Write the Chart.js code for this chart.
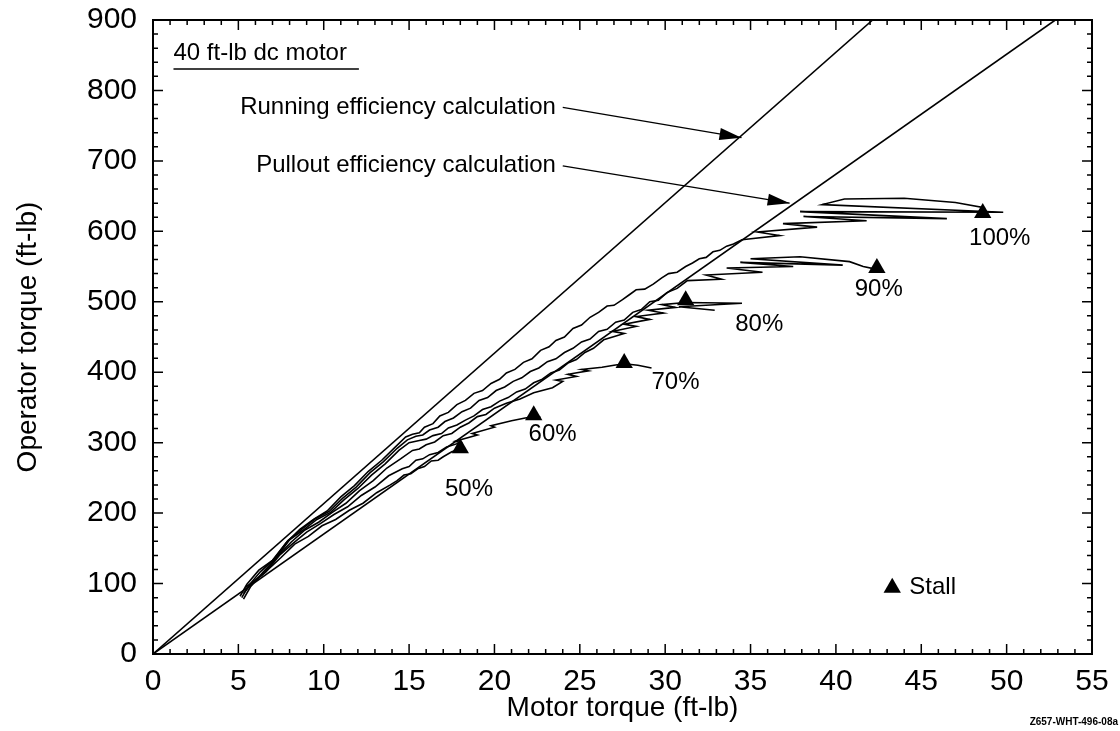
<!DOCTYPE html>
<html>
<head>
<meta charset="utf-8">
<script src="https://cdn.jsdelivr.net/npm/chart.js@4"></script>
<style>
  body { margin: 0; background: #fff; }
</style>
</head>
<body>
<canvas id="chart" width="1120" height="731"></canvas>
<script>
// tick labels
const xTicks = [0, 5, 10, 15, 20, 25, 30, 35, 40, 45, 50, 55];
const yTicks = [0, 100, 200, 300, 400, 500, 600, 700, 800, 900];

// efficiency lines: [motor torque, operator torque]
const runningLine = [[0, 0], [42.15, 900]];
const pulloutLine = [[0, 0], [52.85, 900]];
const runningArrow = [[24.0, 776], [34.47, 733]];
const pulloutArrow = [[24.0, 693], [37.29, 640]];

// traces per voltage level
const curve100 = [[5.1,82],[5.5,99],[6.2,119],[7.0,133],[7.8,158],[8.6,177],[9.4,191],[10.2,203],[11.0,223],[11.8,239],[12.6,259],[13.4,275],[14.2,294],[14.8,308],[15.2,312],[15.6,314],[15.9,322],[16.4,327],[16.8,338],[17.3,343],[17.8,354],[18.3,360],[18.8,370],[19.3,374],[19.8,384],[20.3,390],[20.7,399],[21.2,404],[21.7,414],[22.2,419],[22.7,431],[23.2,436],[23.6,445],[24.1,450],[24.6,462],[25.1,467],[25.6,478],[26.1,485],[26.6,494],[27.0,495],[27.5,503],[27.9,510],[28.3,517],[28.8,518],[29.3,525],[29.8,534],[30.2,540],[30.7,542],[31.2,550],[31.6,555],[32.0,561],[32.4,563],[32.8,571],[33.2,573],[33.6,579],[34.0,582],[34.5,588],[36.7,594],[35.4,599],[38.9,606],[36.9,611],[41.8,615],[38.1,621],[46.5,618],[37.9,628],[49.8,627],[39.2,638],[40.5,646],[44.0,647],[47.0,641],[48.6,634],[48.6,626]];
const curve90 = [[5.2,80],[5.6,97],[6.3,117],[7.1,135],[7.9,161],[8.7,177],[9.5,192],[10.3,202],[11.1,221],[11.9,237],[12.7,257],[13.5,273],[14.3,292],[14.9,304],[15.4,309],[15.8,311],[16.2,318],[16.7,322],[17.1,330],[17.6,335],[18.1,344],[18.6,349],[19.1,360],[19.6,364],[20.1,374],[20.6,379],[21.1,387],[21.6,392],[22.1,401],[22.6,406],[23.1,415],[23.6,419],[24.1,428],[24.6,434],[25.1,443],[25.6,447],[26.1,458],[26.6,461],[27.1,471],[27.6,474],[28.1,485],[28.6,489],[29.1,500],[29.6,502],[30.1,513],[30.7,519],[31.3,530],[33.3,532],[32.4,538],[35.7,542],[33.6,548],[37.5,550],[34.4,556],[40.4,552],[35.0,561],[37.9,564],[40.8,557],[41.6,550],[42.4,546]];
const curve80 = [[5.3,78],[5.7,95],[6.4,115],[7.2,136],[8.0,162],[8.8,176],[9.6,191],[10.4,201],[11.2,219],[12.0,235],[12.8,254],[13.6,270],[14.4,289],[15.0,300],[15.6,303],[16.0,305],[16.4,310],[16.9,313],[17.3,321],[17.8,325],[18.3,332],[18.8,338],[19.3,347],[19.8,351],[20.3,359],[20.8,364],[21.3,372],[21.8,376],[22.3,385],[22.8,390],[23.3,399],[23.8,403],[24.3,413],[24.8,418],[25.3,428],[25.8,434],[26.4,446],[27.6,455],[26.9,458],[28.3,465],[27.6,468],[29.1,475],[28.3,479],[29.9,484],[29.0,488],[30.6,492],[29.8,496],[31.2,499],[34.5,498],[30.8,493],[32.9,488]];
const curve70 = [[5.3,86],[5.8,101],[6.5,115],[7.3,139],[8.1,159],[8.9,176],[9.7,187],[10.5,201],[11.3,214],[12.1,232],[12.9,246],[13.7,264],[14.5,277],[15.2,289],[15.6,291],[16.0,297],[16.5,301],[17.0,310],[17.5,313],[18.0,322],[18.5,328],[19.0,337],[19.5,340],[20.0,349],[20.7,356],[21.5,362],[22.3,371],[23.4,378],[24.0,387],[23.6,389],[24.8,394],[24.3,397],[25.5,402],[25.1,404],[26.3,407],[27.0,410],[27.6,412],[28.4,410],[29.2,406]];
const curve60 = [[5.4,90],[5.9,103],[6.6,116],[7.4,140],[8.2,157],[9.0,173],[9.8,185],[10.6,198],[11.4,209],[12.2,225],[13.0,237],[13.8,253],[14.6,263],[15.0,266],[15.4,275],[15.8,277],[16.2,283],[16.7,286],[17.2,294],[18.0,300],[17.7,302],[19.0,311],[18.7,313],[20.0,322],[19.8,324],[21.0,331],[21.8,335],[22.3,337],[22.7,336]];
const curve50 = [[5.4,95],[6.0,104],[6.7,119],[7.5,137],[8.3,156],[9.1,167],[9.9,182],[10.7,191],[11.5,204],[12.3,214],[13.1,229],[13.9,240],[14.3,246],[14.7,254],[15.1,256],[15.5,263],[15.9,266],[16.3,274],[16.7,275],[17.0,280],[17.5,287],[18.0,291]];

// stall points and their labels
const stallPoints = [[18.0,292],[22.3,339],[27.6,413],[31.2,502],[42.4,548],[48.6,626]];
const stallLabels = ['50%', '60%', '70%', '80%', '90%', '100%'];
const legendStall = [[43.3, 94]];

const FONT = "'Liberation Sans', Arial, Helvetica, sans-serif";
Chart.defaults.font.family = FONT;
Chart.defaults.color = '#000';

const pts = arr => arr.map(p => ({x: p[0], y: p[1]}));
const lineSet = (arr, w) => ({
  data: pts(arr), showLine: true, pointRadius: 0, borderColor: '#000',
  borderWidth: w, tension: 0, fill: false
});

// text placed in data coordinates
const notes = [
  {text: '40 ft-lb dc motor', x: 1.2, y: 853, align: 'left', underline: true},
  {text: 'Running efficiency calculation', x: 23.6, y: 776, align: 'right'},
  {text: 'Pullout efficiency calculation', x: 23.6, y: 693, align: 'right'},
  {text: stallLabels[0], x: 17.1, y: 233, align: 'left'},
  {text: stallLabels[1], x: 22.0, y: 312, align: 'left'},
  {text: stallLabels[2], x: 29.2, y: 386, align: 'left'},
  {text: stallLabels[3], x: 34.1, y: 468, align: 'left'},
  {text: stallLabels[4], x: 41.1, y: 517, align: 'left'},
  {text: stallLabels[5], x: 47.8, y: 590, align: 'left'},
  {text: 'Stall', x: 44.3, y: 94, align: 'left'}
];

const decor = {
  id: 'decor',
  afterDatasetsDraw(chart) {
    const {ctx, chartArea: a, scales: {x, y}} = chart;
    ctx.save();
    ctx.strokeStyle = '#000';
    ctx.fillStyle = '#000';
    // frame
    ctx.lineWidth = 2;
    ctx.strokeRect(a.left, a.top, a.right - a.left, a.bottom - a.top);
    // inward ticks on all four sides
    ctx.lineWidth = 1.5;
    ctx.beginPath();
    for (let v = 0; v <= 55; v++) {
      const px = x.getPixelForValue(v);
      const len = v % 5 === 0 ? 10 : 5;
      ctx.moveTo(px, a.bottom); ctx.lineTo(px, a.bottom - len);
      ctx.moveTo(px, a.top); ctx.lineTo(px, a.top + len);
    }
    for (let v = 0; v <= 900; v += 20) {
      const py = y.getPixelForValue(v);
      const len = v % 100 === 0 ? 10 : 5;
      ctx.moveTo(a.left, py); ctx.lineTo(a.left + len, py);
      ctx.moveTo(a.right, py); ctx.lineTo(a.right - len, py);
    }
    ctx.stroke();

    // arrow heads
    [runningArrow, pulloutArrow].forEach(arr => {
      const x0 = x.getPixelForValue(arr[0][0]), y0 = y.getPixelForValue(arr[0][1]);
      const x1 = x.getPixelForValue(arr[1][0]), y1 = y.getPixelForValue(arr[1][1]);
      const ang = Math.atan2(y1 - y0, x1 - x0);
      const L = 22, W = 6;
      ctx.beginPath();
      ctx.moveTo(x1, y1);
      ctx.lineTo(x1 - L * Math.cos(ang) + W * Math.sin(ang), y1 - L * Math.sin(ang) - W * Math.cos(ang));
      ctx.lineTo(x1 - L * Math.cos(ang) - W * Math.sin(ang), y1 - L * Math.sin(ang) + W * Math.cos(ang));
      ctx.closePath();
      ctx.fill();
    });

    // annotations
    ctx.font = '24px ' + FONT;
    ctx.textBaseline = 'middle';
    notes.forEach(n => {
      const px = x.getPixelForValue(n.x), py = y.getPixelForValue(n.y);
      ctx.textAlign = n.align;
      ctx.fillText(n.text, px, py);
      if (n.underline) {
        const w = ctx.measureText(n.text).width;
        ctx.lineWidth = 1.5;
        ctx.beginPath();
        ctx.moveTo(px, py + 16);
        ctx.lineTo(px + w + 12, py + 16);
        ctx.stroke();
      }
    });

    // figure id
    ctx.font = 'bold 10px ' + FONT;
    ctx.textAlign = 'right';
    ctx.fillText('Z657-WHT-496-08a', 1118, 722);
    ctx.restore();
  }
};

new Chart(document.getElementById('chart'), {
  type: 'scatter',
  data: {
    datasets: [
      lineSet(runningLine, 1.6),
      lineSet(pulloutLine, 1.6),
      lineSet(runningArrow, 1.4),
      lineSet(pulloutArrow, 1.4),
      lineSet(curve100, 1.6),
      lineSet(curve90, 1.6),
      lineSet(curve80, 1.6),
      lineSet(curve70, 1.6),
      lineSet(curve60, 1.6),
      lineSet(curve50, 1.6),
      {
        data: pts(stallPoints.concat(legendStall)), showLine: false,
        pointStyle: 'triangle', pointRadius: 10,
        backgroundColor: '#000', borderColor: '#000', borderWidth: 0
      }
    ]
  },
  options: {
    responsive: false,
    animation: false,
    devicePixelRatio: 1,
    layout: { padding: { top: 20, right: 28, left: 0, bottom: 0 } },
    plugins: { legend: { display: false }, tooltip: { enabled: false } },
    scales: {
      x: {
        type: 'linear', min: 0, max: 55,
        afterBuildTicks: s => { s.ticks = xTicks.map(v => ({value: v})); },
        afterFit: s => { s.height = 77; s.paddingLeft = 0; s.paddingRight = 0; },
        grid: { display: false, drawTicks: false },
        border: { display: false },
        ticks: { font: { size: 30 }, padding: 10, maxRotation: 0, autoSkip: false },
        title: { display: true, text: 'Motor torque (ft-lb)', font: { size: 28 }, padding: { bottom: 6, top: 0 } }
      },
      y: {
        type: 'linear', min: 0, max: 900,
        afterBuildTicks: s => { s.ticks = yTicks.map(v => ({value: v})); },
        afterFit: s => { s.width = 153; s.paddingTop = 0; s.paddingBottom = 0; },
        grid: { display: false, drawTicks: false },
        border: { display: false },
        ticks: { font: { size: 30 }, padding: 16, autoSkip: false },
        title: { display: true, text: 'Operator torque (ft-lb)', font: { size: 28 }, padding: { top: 11, bottom: 0 } }
      }
    }
  },
  plugins: [decor]
});
</script>
</body>
</html>
